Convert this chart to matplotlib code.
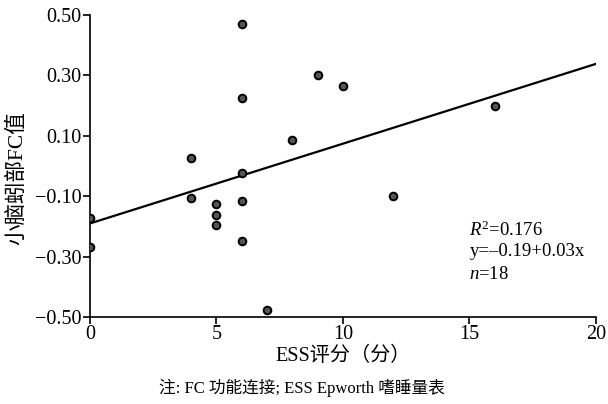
import matplotlib

matplotlib.use("Agg")
import matplotlib.pyplot as plt

# ESS score vs cerebellar vermis FC value
ess = [0, 0, 4, 4, 5, 5, 5, 6, 6, 6, 6, 6, 7, 8, 9, 10, 12, 16]
fc = [-0.173, -0.268, -0.105, 0.027, -0.124, -0.163, -0.196,
      -0.117, -0.248, 0.469, 0.225, -0.024, -0.477, 0.086,
      0.300, 0.265, -0.099, 0.200]

# fitted line as drawn
fit_intercept = -0.19
fit_slope = 0.0264
fit_x = [0, 20]

x_ticks = [0, 5, 10, 15, 20]
y_ticks = [-0.50, -0.30, -0.10, 0.10, 0.30, 0.50]

FONT = ["Liberation Serif", "Noto Sans CJK SC"]
plt.rcParams["font.family"] = FONT
plt.rcParams["mathtext.fontset"] = "custom"
plt.rcParams["mathtext.rm"] = "Liberation Serif"
plt.rcParams["mathtext.it"] = "Liberation Serif:italic"


def main() -> None:
    fig = plt.figure(figsize=(6.08, 4.04), dpi=100)
    ax = fig.add_axes([0.148, 0.215, 0.832, 0.748])

    ax.plot(fit_x, [fit_intercept + fit_slope * x for x in fit_x],
            color="black", lw=1.6, zorder=2)
    ax.plot(ess, fc, "o", ms=5.5, mfc="#555555", mec="black", mew=1.4,
            zorder=3)

    ax.set_xlim(0, 20)
    ax.set_ylim(-0.50, 0.50)
    ax.set_xticks(x_ticks)
    ax.set_yticks(y_ticks)
    ax.set_yticklabels([f"{v:.2f}".replace("-", "\u2212") for v in y_ticks])

    for s in ("top", "right"):
        ax.spines[s].set_visible(False)
    for s in ("left", "bottom"):
        ax.spines[s].set_linewidth(1.2)
    ax.tick_params(direction="out", length=5, width=1.2, labelsize=14.5,
                   pad=1)

    ax.set_xlabel("ESS评分（分）", fontsize=14.5, labelpad=2)
    ax.set_ylabel("小脑蚓部FC值", fontsize=15.5)
    ax.yaxis.set_label_coords(-0.125, 0.46)

    ax.text(15.0, -0.212, r"$R^2$=0.176", fontsize=13.5, va="center")
    ax.text(15.0, -0.283, "y=\u2013" + "0.19+0.03x", fontsize=13.5,
            va="center")
    ax.text(15.0, -0.358, r"$n$=18", fontsize=13.5, va="center")

    fig.text(0.497, 0.04, "注: FC 功能连接; ESS Epworth 嗜睡量表",
             fontsize=12, ha="center", va="center")

    fig.savefig("out.png", dpi=100)


if __name__ == "__main__":
    main()
